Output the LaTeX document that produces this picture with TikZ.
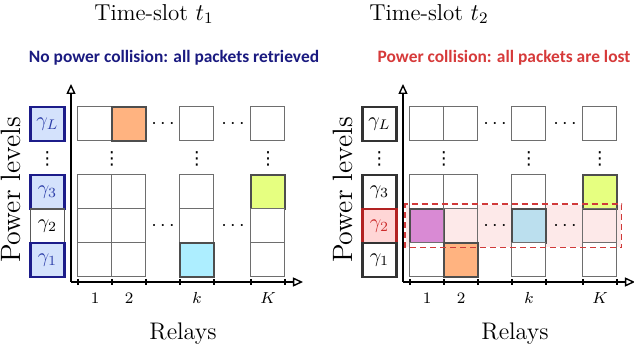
\documentclass[tikz,border=0pt]{standalone}
\usepackage{fontspec}
\usetikzlibrary{arrows.meta, positioning, fit, backgrounds}
\newfontfamily\notefont{Carlito}
\newfontfamily\symfont{DejaVu Sans}
\definecolor{NoteBlue}{HTML}{1A1A80}
\definecolor{NoteRed}{HTML}{D63A3A}
\definecolor{CellGray}{HTML}{6E6E6E}
\definecolor{HotGray}{HTML}{4E4E4E}
\definecolor{LvlBlueFill}{HTML}{D4E2FC}
\definecolor{LvlBlueLine}{HTML}{1C1C8A}
\definecolor{LvlBlueText}{HTML}{2A3CA8}
\definecolor{LvlRedFill}{HTML}{FFD6D6}
\definecolor{LvlRedLine}{HTML}{B22222}
\definecolor{LvlRedText}{HTML}{CC2B2B}
\definecolor{PeachFill}{HTML}{FFB380}
\definecolor{LimeFill}{HTML}{E6FF80}
\definecolor{CyanFill}{HTML}{ADEEFF}
\definecolor{OrchidFill}{HTML}{D98AD4}
\definecolor{SkyFill}{HTML}{BBDFEE}
\definecolor{BandFill}{HTML}{FDE9E9}
\definecolor{BandLine}{HTML}{D03A3A}

\begin{document}
\begin{tikzpicture}[x=0.5pt, y=-0.5pt, >={Triangle[open, length=5pt, width=4.5pt]},
        cell/.style={rectangle, draw=CellGray, fill=white, line width=0.5pt, minimum size=17pt, inner sep=0pt, outer sep=0pt},
        hot/.style={cell, draw=HotGray, line width=1.1pt},
        lvl/.style={rectangle, draw=black!80, fill=white, line width=1.1pt, minimum size=17pt, inner sep=0pt, font=\fontsize{10}{12}\selectfont},
        lvlblue/.style={lvl, draw=LvlBlueLine, fill=LvlBlueFill, text=LvlBlueText},
        lvlred/.style={lvl, draw=LvlRedLine, fill=LvlRedFill, text=LvlRedText},
        dots/.style={inner sep=0pt, font=\fontsize{10}{12}\selectfont},
        vdots/.style={inner sep=0pt, font=\symfont\fontsize{9}{10}\selectfont},
        ttl/.style={font=\fontsize{11.5}{13}\selectfont},
        note/.style={font=\notefont\bfseries\fontsize{8.7}{10}\selectfont},
        axlab/.style={font=\fontsize{12}{14}\selectfont},
        ylab/.style={rotate=90, font=\fontsize{14}{16}\selectfont},
        tlab/.style={font=\fontsize{8}{9}\selectfont},
        axis/.style={->, line width=0.7pt},
        tick/.style={line width=0.6pt},
        band/.style={fill=BandFill, inner sep=2.2pt},
        bandline/.style={draw=BandLine, line width=0.7pt, dash pattern=on 3pt off 2pt}]

        \useasboundingbox (0,0) rectangle (634,348);

        % time-slot t1
        \node[ttl] (p-title) at (154,14) {Time-slot $t_1$};
        \node[note, text=NoteBlue] (p-note) at (174,58) {No power collision: all packets retrieved};
        \node[ylab] (p-ylab) at (11,190) {Power levels};
        \node[axlab] (p-xlab) at (183,334) {Relays};

        \node[lvlblue] (p-gL) at (47.5,124) {$\gamma_L$};
        \node[vdots] (p-gv) at (47.5,159) {⋮};
        \node[lvlblue] (p-g3) at (47.5,192) {$\gamma_3$};
        \node[lvl, draw=black!65, line width=0.8pt] (p-g2) at (47.5,226) {$\gamma_2$};
        \node[lvlblue] (p-g1) at (47.5,260) {$\gamma_1$};

        \node[cell] (p-L1) at (95,124) {};
        \node[hot, fill=PeachFill] (p-L2) at (129,124) {};
        \node[cell] (p-Lk) at (197,124) {};
        \node[cell] (p-LK) at (268,124) {};
        \node[cell] (p-31) at (95,192) {};
        \node[cell] (p-32) at (129,192) {};
        \node[cell] (p-3k) at (197,192) {};
        \node[hot, fill=LimeFill] (p-3K) at (268,192) {};
        \node[cell] (p-21) at (95,226) {};
        \node[cell] (p-22) at (129,226) {};
        \node[cell] (p-2k) at (197,226) {};
        \node[cell] (p-2K) at (268,226) {};
        \node[cell] (p-11) at (95,260) {};
        \node[cell] (p-12) at (129,260) {};
        \node[hot, fill=CyanFill] (p-1k) at (197,260) {};
        \node[cell] (p-1K) at (268,260) {};

        \node[dots] (p-hL1) at (163,124) {$\cdots$};
        \node[dots] (p-hL2) at (233,124) {$\cdots$};
        \node[dots] (p-h21) at (163,226) {$\cdots$};
        \node[dots] (p-h22) at (233,226) {$\cdots$};
        \node[vdots] (p-v1) at (112,159) {⋮};
        \node[vdots] (p-v2) at (197,159) {⋮};
        \node[vdots] (p-v3) at (268,159) {⋮};

        \coordinate (p-o) at (71,282);
        \coordinate (p-ytip) at (71,84);
        \coordinate (p-xtip) at (303,282);
        \draw[axis] (p-o) -- (p-ytip);
        \draw[axis] (p-o) -- (p-xtip);
        \draw[tick] (78,279) -- (78,285) (112,279) -- (112,285) (146,279) -- (146,285)
            (180,279) -- (180,285) (214,279) -- (214,285) (251,279) -- (251,285) (285,279) -- (285,285);
        \node[tlab] (p-t1) at (95,298) {1};
        \node[tlab] (p-t2) at (129,298) {2};
        \node[tlab] (p-tk) at (197,298) {$k$};
        \node[tlab] (p-tK) at (268,298) {$K$};

        % time-slot t2
        \node[ttl] (q-title) at (429,14) {Time-slot $t_2$};
        \node[note, text=NoteRed] (q-note) at (504,58) {Power collision: all packets are lost};
        \node[ylab] (q-ylab) at (343,190) {Power levels};
        \node[axlab] (q-xlab) at (515,334) {Relays};

        \node[lvl] (q-gL) at (379.5,124) {$\gamma_L$};
        \node[vdots] (q-gv) at (379.5,159) {⋮};
        \node[lvl] (q-g3) at (379.5,192) {$\gamma_3$};
        \node[lvlred] (q-g2) at (379.5,226) {$\gamma_2$};
        \node[lvl] (q-g1) at (379.5,260) {$\gamma_1$};

        \node[cell] (q-L1) at (427,124) {};
        \node[cell] (q-L2) at (461,124) {};
        \node[cell] (q-Lk) at (529,124) {};
        \node[cell] (q-LK) at (600,124) {};
        \node[cell] (q-31) at (427,192) {};
        \node[cell] (q-32) at (461,192) {};
        \node[cell] (q-3k) at (529,192) {};
        \node[hot, fill=LimeFill] (q-3K) at (600,192) {};
        \node[hot, fill=OrchidFill] (q-21) at (427,226) {};
        \node[cell, fill=none] (q-22) at (461,226) {};
        \node[hot, fill=SkyFill] (q-2k) at (529,226) {};
        \node[cell, fill=none] (q-2K) at (600,226) {};
        \node[cell] (q-11) at (427,260) {};
        \node[hot, fill=PeachFill] (q-12) at (461,260) {};
        \node[cell] (q-1k) at (529,260) {};
        \node[cell] (q-1K) at (600,260) {};

        \begin{scope}[on background layer]
            \node[band, fit=(q-21)(q-2K)] (q-band) {};
        \end{scope}
        \draw[bandline] (q-band.south west) rectangle (q-band.north east);

        \node[dots] (q-hL1) at (495,124) {$\cdots$};
        \node[dots] (q-hL2) at (565,124) {$\cdots$};
        \node[dots] (q-h21) at (495,226) {$\cdots$};
        \node[dots] (q-h22) at (565,226) {$\cdots$};
        \node[vdots] (q-v1) at (444,159) {⋮};
        \node[vdots] (q-v2) at (529,159) {⋮};
        \node[vdots] (q-v3) at (600,159) {⋮};

        \coordinate (q-o) at (403,282);
        \coordinate (q-ytip) at (403,84);
        \coordinate (q-xtip) at (635,282);
        \draw[axis] (q-o) -- (q-ytip);
        \draw[axis] (q-o) -- (q-xtip);
        \draw[tick] (410,279) -- (410,285) (444,279) -- (444,285) (478,279) -- (478,285)
            (512,279) -- (512,285) (546,279) -- (546,285) (583,279) -- (583,285) (617,279) -- (617,285);
        \node[tlab] (q-t1) at (427,298) {1};
        \node[tlab] (q-t2) at (461,298) {2};
        \node[tlab] (q-tk) at (529,298) {$k$};
        \node[tlab] (q-tK) at (600,298) {$K$};
    \end{tikzpicture}
\end{document}
